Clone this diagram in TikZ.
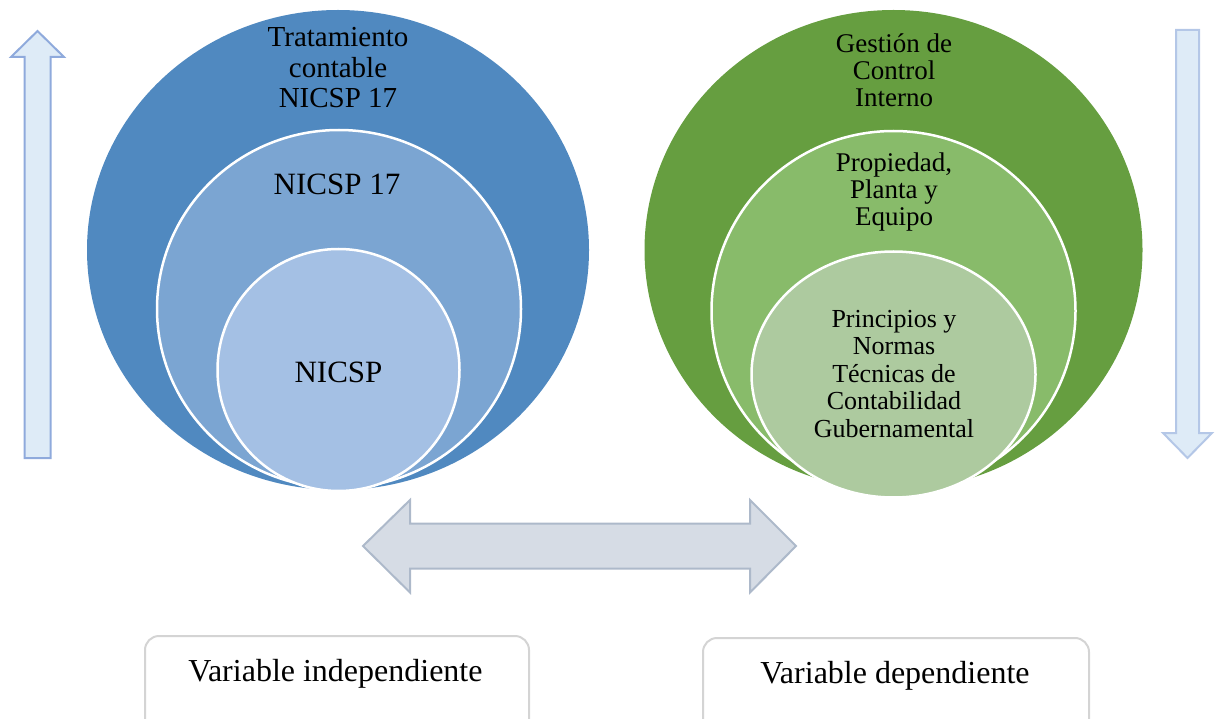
\documentclass[tikz,border=0pt]{standalone}
\usepackage{fontspec}
\setmainfont{Liberation Serif}
\usetikzlibrary{shapes.geometric}
\definecolor{bOut}{HTML}{5089C0}
\definecolor{bMid}{HTML}{7BA5D2}
\definecolor{bIn}{HTML}{A4C0E4}
\definecolor{gOut}{HTML}{669E40}
\definecolor{gMid}{HTML}{88BB6A}
\definecolor{gIn}{HTML}{ADCA9F}
\definecolor{arrFill}{HTML}{DEEBF7}
\definecolor{arrLine}{HTML}{8FAADC}
\definecolor{arrLineB}{HTML}{B4C7E7}
\definecolor{dblFill}{HTML}{D6DCE5}
\definecolor{dblLine}{HTML}{ADB9CA}
\definecolor{boxLine}{HTML}{D4D4D4}
\begin{document}
\begin{tikzpicture}[x=1pt,y=-1pt,
  ring/.style={ellipse, inner sep=0pt, outer sep=0pt, draw=white, line width=2.5pt},
  lbl/.style={align=center, anchor=base, inner sep=0pt, text=black},
  blockarrow/.style={line width=2pt, line join=miter},
  varbox/.style={draw=boxLine, line width=2pt, rounded corners=14pt, fill=white}]
\useasboundingbox (0,0) rectangle (1218,719);
\clip (0,0) rectangle (1218,719);

% left nested circles
\node[ring, fill=bOut, draw=none, minimum width=502pt, minimum height=480pt] (Lout) at (338,250) {};
\node[ring, fill=bMid, minimum width=364pt, minimum height=358pt] (Lmid) at (339,309) {};
\node[ring, fill=bIn, minimum width=242pt, minimum height=242pt] (Lin) at (338.5,370) {};

% right nested circles
\node[ring, fill=gOut, draw=none, minimum width=498pt, minimum height=480pt] (Rout) at (893.5,250) {};
\node[ring, fill=gMid, minimum width=364pt, minimum height=360pt] (Rmid) at (893.5,311) {};
\node[ring, fill=gIn, minimum width=284pt, minimum height=246pt] (Rin) at (893.5,374.5) {};

% texts left (anchor = baseline of last line)
\node[lbl, font=\fontsize{29}{30.5}\selectfont] (tLout) at (338,108) {Tratamiento\\contable\\NICSP 17};
\node[lbl, font=\fontsize{31}{33}\selectfont] (tLmid) at (337,195) {NICSP 17};
\node[lbl, font=\fontsize{31}{33}\selectfont] (tLin) at (338.5,382) {NICSP};

% texts right
\node[lbl, font=\fontsize{27}{27}\selectfont] (tRout) at (894,107) {Gestión de\\Control\\Interno};
\node[lbl, font=\fontsize{27}{27}\selectfont] (tRmid) at (894,226) {Propiedad,\\Planta y\\Equipo};
\node[lbl, font=\fontsize{26}{27.5}\selectfont] (tRin) at (894,437) {Principios y\\Normas\\Técnicas de\\Contabilidad\\Gubernamental};

% side arrows
\path[blockarrow, fill=arrFill, draw=arrLine]
  (24.5,458) -- (24.5,57) -- (11,57) -- (37.5,31) -- (64,57) -- (50.5,57) -- (50.5,458) -- cycle;
\path[blockarrow, fill=arrFill, draw=arrLineB]
  (1176,30) -- (1176,433) -- (1163,433) -- (1187.5,458) -- (1212,433) -- (1199,433) -- (1199,30) -- cycle;

% double arrow
\path[blockarrow, fill=dblFill, draw=dblLine]
  (363,546) -- (410,500) -- (410,523.5) -- (750,523.5) -- (750,500) -- (796,546)
  -- (750,592.5) -- (750,568.5) -- (410,568.5) -- (410,592.5) -- cycle;

% bottom boxes
\node[varbox, minimum width=384pt, minimum height=110pt, anchor=north west] (Bindep) at (144,635) {};
\node[varbox, minimum width=386pt, minimum height=110pt, anchor=north west] (Bdep) at (702,637) {};
\node[lbl, font=\fontsize{32}{34}\selectfont] (tIndep) at (335.5,681) {Variable independiente};
\node[lbl, font=\fontsize{32}{34}\selectfont] (tDep) at (895,683) {Variable dependiente};
\end{tikzpicture}
\end{document}
